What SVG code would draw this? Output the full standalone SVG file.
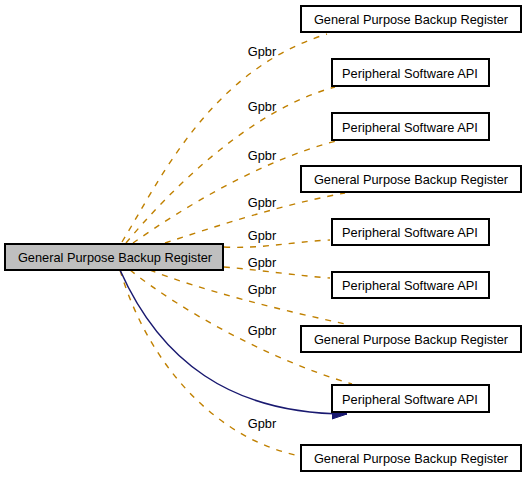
<svg xmlns="http://www.w3.org/2000/svg" width="525" height="479" viewBox="0 0 525 479">
<style>
text{font-family:"Liberation Sans",Arial,sans-serif;font-size:12.8px;fill:#000}
.n rect{fill:#fff;stroke:#000;stroke-width:2}
.n text{text-anchor:middle}
#main rect{fill:#bfbfbf}
.e{fill:none;stroke:#c08000;stroke-width:1.4;stroke-dasharray:6,7}
.lbl{text-anchor:middle}
.b{fill:none;stroke:#191970;stroke-width:1.5}
</style>
<defs>
<marker id="ah" markerUnits="userSpaceOnUse" markerWidth="16" markerHeight="12" refX="15" refY="5" orient="auto">
<polygon points="0,0 15,5 0,10" fill="#191970" stroke="#191970"/>
</marker>
</defs>
<rect width="525" height="479" fill="#fff"/>
<g id="connectors">
<path class="e" d="M122,242 C160,180 210,70 327,34"/>
<path class="e" d="M126,243 C170,190 250,110 335,87"/>
<path class="e" d="M133,243 C180,210 260,160 340,140"/>
<path class="e" d="M165,243 C220,225 280,205 345,193"/>
<path class="e" d="M224,247 C260,249 290,242 330,240"/>
<path class="e" d="M224,267 C260,270 300,276 330,278"/>
<path class="e" d="M150,270 C200,290 280,310 350,325"/>
<path class="e" d="M130,270 C180,310 270,360 352,384"/>
<path class="e" d="M120,270 C150,370 220,440 300,456"/>
<path class="b" d="M120,270 C160,360 230,414 347,414" marker-end="url(#ah)"/>
<text class="lbl" x="262" y="56">Gpbr</text>
<text class="lbl" x="262" y="111">Gpbr</text>
<text class="lbl" x="262" y="160">Gpbr</text>
<text class="lbl" x="262" y="207">Gpbr</text>
<text class="lbl" x="262" y="240">Gpbr</text>
<text class="lbl" x="262" y="267">Gpbr</text>
<text class="lbl" x="262" y="294">Gpbr</text>
<text class="lbl" x="262" y="335">Gpbr</text>
<text class="lbl" x="262" y="428">Gpbr</text>
</g>
<g id="main" class="n"><rect x="5" y="244" width="218" height="26"/><text x="115" y="262">General Purpose Backup Register</text></g>
<g id="n1" class="n"><rect x="301" y="6" width="220" height="26"/><text x="411" y="24">General Purpose Backup Register</text></g>
<g id="n2" class="n"><rect x="332" y="59" width="157" height="27"/><text x="410" y="78">Peripheral Software API</text></g>
<g id="n3" class="n"><rect x="332" y="113" width="157" height="27"/><text x="410" y="132">Peripheral Software API</text></g>
<g id="n4" class="n"><rect x="301" y="166" width="220" height="26"/><text x="411" y="184">General Purpose Backup Register</text></g>
<g id="n5" class="n"><rect x="332" y="219" width="157" height="26"/><text x="410" y="237">Peripheral Software API</text></g>
<g id="n6" class="n"><rect x="332" y="272" width="157" height="26"/><text x="410" y="290">Peripheral Software API</text></g>
<g id="n7" class="n"><rect x="301" y="326" width="220" height="26"/><text x="411" y="344">General Purpose Backup Register</text></g>
<g id="n8" class="n"><rect x="332" y="385" width="157" height="27"/><text x="410" y="404">Peripheral Software API</text></g>
<g id="n9" class="n"><rect x="301" y="445" width="220" height="26"/><text x="411" y="463">General Purpose Backup Register</text></g>
</svg>
